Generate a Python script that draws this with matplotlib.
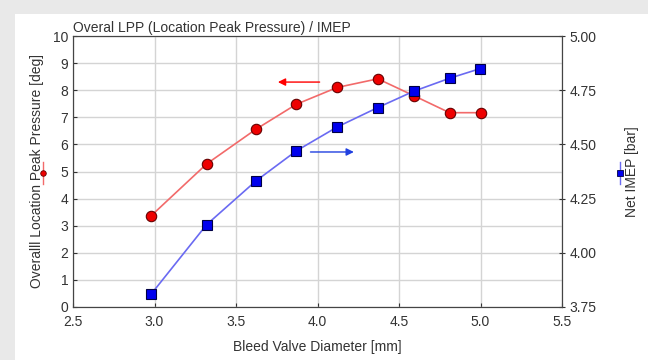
import matplotlib.pyplot as plt
from matplotlib.patches import Rectangle
from matplotlib.lines import Line2D

plt.rcParams['font.family'] = ['Liberation Sans', 'DejaVu Sans']

diameter = [2.98, 3.32, 3.62, 3.87, 4.12, 4.37, 4.59, 4.81, 5.00]
lpp = [3.37, 5.28, 6.55, 7.48, 8.10, 8.42, 7.80, 7.17, 7.17]
imep = [3.81, 4.13, 4.33, 4.47, 4.58, 4.67, 4.745, 4.805, 4.85]

red_line = '#f26a6a'
blue_line = '#6a6af2'

fig = plt.figure(figsize=(6.48, 3.6), dpi=100)
fig.patch.set_facecolor('#e9e9e9')
fig.patches.append(Rectangle((15/648, 0), 1, 1 - 14/360, transform=fig.transFigure,
                             facecolor='white', edgecolor='none', zorder=-5))

ax = fig.add_axes([73/648, 1 - 307/360, (562 - 73)/648, (307 - 36)/360])
ax.set_facecolor('white')
ax.plot(diameter, lpp, color=red_line, lw=1.2, marker='o', ms=7.5,
        mfc='#ee0000', mec='#660000', mew=0.8, zorder=3, clip_on=False)
ax.set_xlim(2.5, 5.5)
ax.set_ylim(0, 10)
ax.set_xticks([2.5, 3.0, 3.5, 4.0, 4.5, 5.0, 5.5])
ax.set_xticklabels(['2.5', '3.0', '3.5', '4.0', '4.5', '5.0', '5.5'])
ax.set_yticks(range(0, 11))
ax.grid(True, color='#d4d4d4', lw=1)
ax.set_axisbelow(True)
ax.tick_params(labelsize=10, colors='#333333', length=3, direction='in')
ax.tick_params(axis='x', pad=6)
for s in ax.spines.values():
    s.set_color('#444444')
ax.set_xlabel('Bleed Valve Diameter [mm]', fontsize=10, color='#333333', labelpad=8)
ax.set_ylabel('Overalll Location Peak Pressure [deg]', fontsize=10, color='#333333', labelpad=6)

ax2 = ax.twinx()
ax2.plot(diameter, imep, color=blue_line, lw=1.2, marker='s', ms=7.5,
         mfc='#0000ee', mec='#000044', mew=0.8, zorder=3, clip_on=False)
ax2.set_ylim(3.75, 5.0)
ax2.set_yticks([3.75, 4.0, 4.25, 4.5, 4.75, 5.0])
ax2.set_yticklabels(['3.75', '4.00', '4.25', '4.50', '4.75', '5.00'])
ax2.tick_params(labelsize=10, colors='#333333', length=4, direction='inout')
for s in ax2.spines.values():
    s.set_color('#444444')
ax2.set_ylabel('Net IMEP [bar]', fontsize=10, color='#333333', labelpad=20)

ax.annotate('', xy=(3.74, 8.3), xytext=(4.03, 8.3),
            arrowprops=dict(arrowstyle='-|>', color='red', lw=1, mutation_scale=11))
ax2.annotate('', xy=(4.24, 4.465), xytext=(3.94, 4.465),
             arrowprops=dict(arrowstyle='-|>', color='#2040e0', lw=1, mutation_scale=11))

ax.text(0.0, 1.005, 'Overal LPP (Location Peak Pressure) / IMEP', transform=ax.transAxes,
        fontsize=10, color='#333333', ha='left', va='bottom')

fig.add_artist(Line2D([43/648, 43/648], [1 - 162/360, 1 - 184/360], color=red_line, lw=1))
fig.add_artist(Line2D([43/648], [1 - 173/360], marker='o', ms=4, mfc='#ee0000', mec='#660000', mew=0.6))
fig.add_artist(Line2D([620/648, 620/648], [1 - 162/360, 1 - 184/360], color=blue_line, lw=1))
fig.add_artist(Line2D([620/648], [1 - 173/360], marker='s', ms=4, mfc='#0000ee', mec='#000044', mew=0.6))

fig.savefig('out.png', dpi=100, facecolor=fig.get_facecolor())
